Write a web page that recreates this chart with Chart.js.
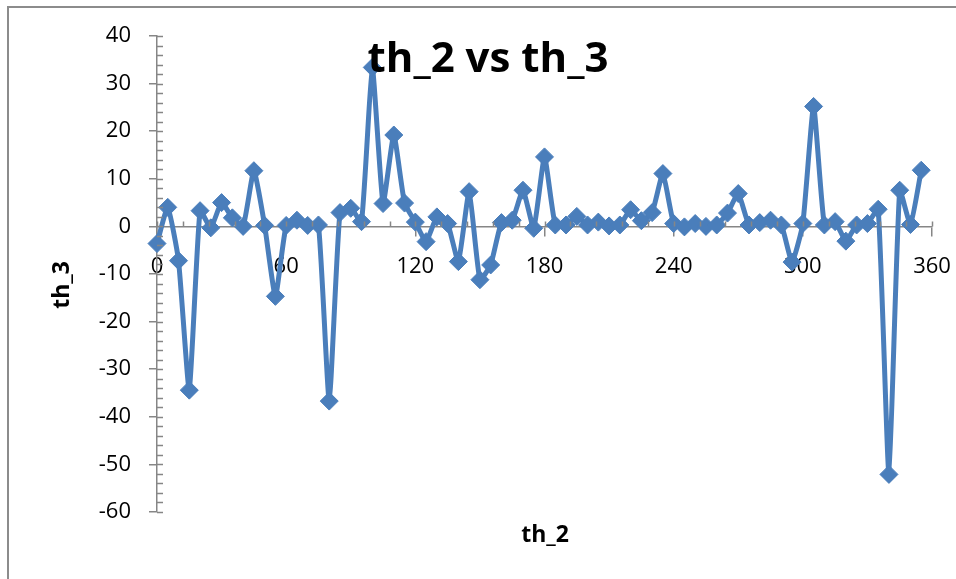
<!DOCTYPE html>
<html>
<head>
<meta charset="utf-8">
<script src="https://cdn.jsdelivr.net/npm/chart.js@4.4.1/dist/chart.umd.min.js"></script>
<style>
    html, body { margin: 0; padding: 0; background: #fff; }
    #wrap { position: relative; width: 956px; height: 579px; overflow: hidden; }
    #frame { position: absolute; left: 7px; top: 6px; width: 980px; height: 640px; border: 2px solid #8c8c8c; box-sizing: border-box; }
    #chart { position: absolute; left: 0; top: 0; }
</style>
</head>
<body>
<div id="wrap">
    <div id="frame"></div>
    <canvas id="chart" width="956" height="579"></canvas>
</div>
<script>
    "use strict";

    // th_2 (deg)
    var th2 = [0, 5, 10, 15, 20, 25, 30, 35, 40, 45, 50, 55, 60, 65, 70, 75, 80, 85, 90, 95,
        100, 105, 110, 115, 120, 125, 130, 135, 140, 145, 150, 155, 160, 165, 170, 175,
        180, 185, 190, 195, 200, 205, 210, 215, 220, 225, 230, 235, 240, 245, 250, 255,
        260, 265, 270, 275, 280, 285, 290, 295, 300, 305, 310, 315, 320, 325, 330, 335,
        340, 345, 350, 355];

    // th_3
    var th3 = [-3.6, 4, -7.2, -34.4, 3.3, -0.3, 5, 1.8, 0, 11.7, 0.2, -14.7, 0.2, 1.3, 0.2, 0.3,
        -36.7, 2.9, 3.8, 1, 33.4, 4.8, 19.2, 4.9, 0.9, -3.2, 2, 0.6, -7.4, 7.3, -11.2, -8.1,
        0.8, 1.3, 7.6, -0.4, 14.6, 0.3, 0.3, 2.1, 0.3, 0.9, 0.1, 0.3, 3.5, 1.2, 2.9, 11.1,
        0.6, -0.1, 0.6, 0, 0.3, 2.8, 6.9, 0.3, 0.8, 1.3, 0.3, -7.5, 0.6, 25.2, 0.3, 1,
        -3.1, 0.3, 0.6, 3.6, -52.1, 7.6, 0.4, 11.8];

    var xTicks = [0, 60, 120, 180, 240, 300, 360];
    var yTicks = [-60, -50, -40, -30, -20, -10, 0, 10, 20, 30, 40];

    var chartTitle = "th_2 vs th_3";
    var xTitle = "th_2";
    var yTitle = "th_3";

    var blue = "#4a7ebb";
    var axisGray = "#868686";
    var font = "'Open Sans', 'DejaVu Sans', sans-serif";

    var points = th2.map(function (v, i) {
        return {x: v, y: th3[i]};
    });

    // ticks inside the plot + titles, the way Excel draws them
    var excelBits = {
        id: "excelBits",
        afterDraw: function (chart) {
            var ctx = chart.ctx;
            var xs = chart.scales.x, ys = chart.scales.y;
            var x0 = xs.getPixelForValue(0);
            var y0 = ys.getPixelForValue(0);
            ctx.save();
            ctx.strokeStyle = axisGray;
            ctx.lineWidth = 1.5;
            ctx.beginPath();
            // y axis: minor every 2, inward
            for (var v = -60; v <= 40; v += 2) {
                var py = Math.round(ys.getPixelForValue(v)) + 0.5;
                ctx.moveTo(x0, py);
                ctx.lineTo(x0 + 6, py);
            }
            // x axis: minor every 12 upward
            for (var d = 0; d <= 360; d += 12) {
                var px = Math.round(xs.getPixelForValue(d)) + 0.5;
                ctx.moveTo(px, y0);
                ctx.lineTo(px, y0 - 5);
            }
            ctx.stroke();
            ctx.restore();

            ctx.save();
            ctx.fillStyle = "#000";
            ctx.textAlign = "center";
            ctx.textBaseline = "middle";
            ctx.font = "bold 42px " + font;
            ctx.fillText(chartTitle, 488, 60);
            ctx.font = "bold 23px " + font;
            ctx.fillText(xTitle, 545, 535);
            ctx.translate(62, 285);
            ctx.rotate(-Math.PI / 2);
            ctx.fillText(yTitle, 0, 0);
            ctx.restore();
        }
    };

    var ctx = document.getElementById("chart").getContext("2d");
    var myChart = new Chart(ctx, {
        type: "line",
        data: {
            datasets: [{
                data: points,
                borderColor: blue,
                backgroundColor: blue,
                borderWidth: 5,
                tension: 0.15,
                pointStyle: "rectRot",
                pointRadius: 9,
                pointBorderWidth: 1,
                pointBorderColor: blue,
                pointBackgroundColor: blue,
                clip: false
            }]
        },
        options: {
            responsive: false,
            animation: false,
            layout: {
                padding: {left: 0, top: 36, right: 24, bottom: 67}
            },
            plugins: {
                legend: {display: false},
                tooltip: {enabled: false},
                title: {display: false}
            },
            scales: {
                x: {
                    type: "linear",
                    position: {y: 0},
                    min: 0,
                    max: 360,
                    afterBuildTicks: function (scale) {
                        scale.ticks = xTicks.map(function (v) { return {value: v}; });
                    },
                    afterFit: function (scale) {
                        // labels may hang past the plot, like in Excel
                        scale.paddingLeft = 0;
                        scale.paddingRight = 0;
                    },
                    ticks: {
                        color: "#000",
                        font: {family: font, size: 22},
                        padding: 18,
                        maxRotation: 0,
                        autoSkip: false
                    },
                    grid: {
                        display: true,
                        drawOnChartArea: false,
                        drawTicks: true,
                        tickLength: 9,
                        color: axisGray,
                        lineWidth: 1.5
                    },
                    border: {display: true, color: axisGray, width: 1.5}
                },
                y: {
                    type: "linear",
                    min: -60,
                    max: 40,
                    afterBuildTicks: function (scale) {
                        scale.ticks = yTicks.map(function (v) { return {value: v}; });
                    },
                    afterFit: function (scale) {
                        scale.width = 157;
                    },
                    ticks: {
                        color: "#000",
                        font: {family: font, size: 22},
                        padding: 18
                    },
                    grid: {
                        display: true,
                        drawOnChartArea: false,
                        drawTicks: true,
                        tickLength: 8,
                        color: axisGray,
                        lineWidth: 1.5
                    },
                    border: {display: true, color: axisGray, width: 1.5}
                }
            }
        },
        plugins: [excelBits]
    });
</script>
</body>
</html>
